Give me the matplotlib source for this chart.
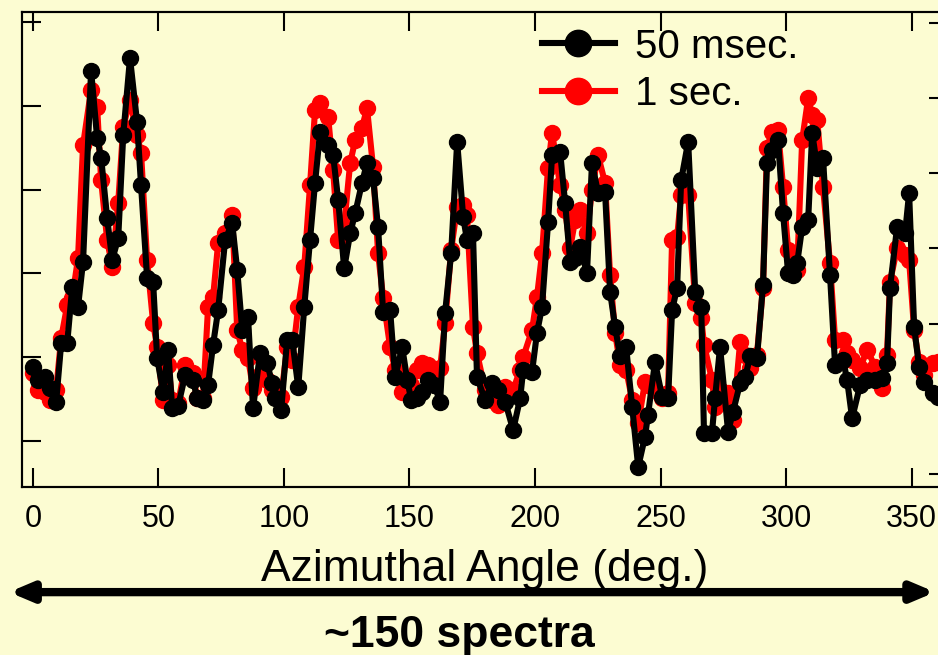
import matplotlib.pyplot as plt

# azimuthal angle of each spectrum (deg.) and intensity (arb. units)
angle = [0.0, 2.1, 4.9, 6.9, 9.3, 11.3, 13.7, 15.7, 18.0, 20.0,
         23.2, 25.6, 27.2, 29.6, 31.6, 34.0, 36.0, 38.7, 41.5, 43.1,
         45.5, 47.9, 49.5, 51.9, 53.9, 55.5, 57.9, 60.7, 63.8, 65.4,
         67.8, 69.8, 71.8, 73.8, 76.6, 79.4, 81.4, 83.4, 85.7, 87.7,
         90.5, 93.3, 95.3, 96.5, 98.9, 101.3, 103.3, 105.7, 108.1, 110.4,
         112.4, 114.4, 117.6, 119.6, 121.6, 124.0, 126.4, 128.4, 131.1, 133.1,
         135.5, 137.5, 139.5, 142.3, 144.3, 147.1, 149.1, 150.7, 153.0, 155.0,
         157.4, 159.8, 162.2, 164.2, 166.6, 169.0, 171.4, 172.9, 175.3, 176.9,
         180.1, 182.9, 185.3, 188.1, 191.3, 194.1, 195.3, 198.8, 200.8, 202.8,
         205.2, 206.8, 210.0, 212.0, 214.0, 216.0, 218.0, 220.7, 222.7, 225.1,
         227.9, 229.9, 231.9, 233.9, 236.3, 238.7, 241.1, 243.8, 245.0, 247.8,
         250.6, 253.0, 254.6, 256.6, 258.2, 261.0, 263.8, 266.2, 267.3, 270.5,
         271.7, 273.7, 276.9, 278.9, 281.7, 283.7, 285.7, 288.4, 290.8, 292.4,
         294.4, 296.8, 298.8, 300.8, 302.8, 304.4, 306.4, 308.8, 310.4, 312.4,
         314.7, 317.5, 319.5, 322.7, 324.3, 326.3, 329.5, 332.3, 335.5, 338.2,
         340.2, 341.4, 344.2, 347.4, 349.0, 351.0, 353.0, 355.0, 358.5, 360.5]

msec50 = [8.8, 7.3, 7.6, 6.3, 4.7, 11.7, 11.7, 18.4, 16.0, 21.4,
          44.2, 36.2, 33.8, 26.6, 21.6, 24.2, 36.5, 45.7, 38.1, 30.5,
          19.5, 19.0, 9.9, 5.8, 10.9, 3.9, 4.2, 7.9, 7.3, 5.1,
          4.9, 6.7, 11.5, 15.6, 24.0, 26.0, 20.4, 13.2, 14.8, 3.9,
          10.5, 9.3, 6.9, 5.1, 3.7, 12.1, 12.1, 6.4, 16.0, 24.0,
          30.8, 36.9, 35.3, 34.1, 28.8, 20.6, 24.8, 27.2, 30.8, 33.2,
          31.4, 25.5, 15.4, 15.6, 7.6, 11.2, 7.3, 4.9, 5.1, 5.8,
          7.3, 6.7, 4.7, 15.3, 22.4, 35.7, 26.7, 24.0, 24.8, 7.6,
          4.9, 6.9, 6.1, 4.7, 1.3, 5.1, 8.5, 8.2, 12.9, 16.0,
          26.1, 34.1, 34.5, 28.4, 21.4, 21.8, 23.1, 20.0, 33.2, 29.6,
          29.7, 17.8, 13.6, 10.1, 11.2, 4.1, -3.1, 0.5, 3.1, 9.4,
          5.3, 5.1, 15.6, 18.3, 31.1, 35.7, 17.8, 16.0, 1.0, 1.0,
          5.1, 11.2, 1.1, 3.5, 6.9, 7.6, 10.1, 9.9, 18.6, 33.2,
          34.7, 35.9, 27.2, 20.0, 19.8, 21.2, 25.5, 26.4, 36.8, 32.6,
          33.8, 19.8, 9.1, 9.7, 7.3, 2.7, 6.7, 7.3, 7.3, 7.5,
          9.3, 18.3, 25.5, 24.8, 29.6, 13.6, 8.8, 7.0, 5.7, 5.3]

sec1 = [8.1, 6.1, 5.8, 4.9, 6.1, 12.3, 16.2, 17.1, 21.8, 35.3,
        41.9, 39.9, 31.1, 24.0, 20.8, 28.4, 37.5, 40.7, 36.5, 34.4,
        21.6, 14.1, 11.2, 4.9, 9.1, 4.9, 4.5, 9.1, 8.1, 5.1,
        5.1, 16.0, 17.2, 23.6, 24.8, 27.0, 13.2, 10.9, 9.9, 6.3,
        7.9, 7.3, 6.1, 5.5, 5.3, 11.2, 9.7, 16.0, 20.8, 30.5,
        39.5, 40.3, 38.7, 32.3, 24.0, 25.8, 33.2, 35.9, 37.4, 39.7,
        32.7, 22.4, 17.1, 11.2, 8.5, 5.8, 7.3, 6.7, 8.5, 9.3,
        9.1, 8.5, 8.7, 14.1, 22.8, 27.9, 28.2, 27.0, 13.6, 10.5,
        6.1, 4.9, 4.3, 6.4, 6.1, 8.5, 10.0, 13.2, 17.2, 22.4,
        32.6, 36.8, 30.5, 27.6, 23.0, 26.4, 27.6, 24.8, 30.0, 34.1,
        30.8, 19.8, 12.9, 9.1, 8.5, 4.9, 2.1, 7.0, 6.7, 6.1,
        5.1, 5.7, 24.0, 24.3, 29.4, 29.4, 16.5, 14.7, 11.5, 7.3,
        4.1, 6.1, 5.7, 2.5, 11.8, 10.3, 8.7, 10.3, 18.3, 35.0,
        36.9, 37.1, 30.3, 22.8, 20.6, 20.4, 35.9, 40.9, 38.9, 38.3,
        30.3, 21.2, 12.1, 12.1, 10.5, 9.7, 8.7, 10.9, 8.8, 6.3,
        10.3, 19.0, 23.0, 22.2, 21.6, 13.2, 9.4, 7.9, 9.3, 9.4]

bg = '#FCFCD2'
plt.rcParams['font.family'] = ['Liberation Sans', 'DejaVu Sans']

fig = plt.figure(figsize=(9.38, 6.55), dpi=100, facecolor=bg)
ax = fig.add_axes([0.0235, 0.2565, 0.9872, 0.7252])
ax2 = ax.twinx()
ax.set_zorder(2)
ax.patch.set_visible(False)
ax2.set_zorder(1)

red, = ax.plot(angle, sec1, color='red', lw=4.4, marker='o', ms=11.5, label='1 sec.')
black, = ax.plot(angle, msec50, color='black', lw=4.4, marker='o', ms=11.5, label='50 msec.')

ax.set_xlim(-4.3, 364.5)
ax.set_ylim(-5.5, 51.2)
ax.set_xticks(range(0, 351, 50))
ax.set_yticks(range(0, 51, 10))
ax.set_yticklabels([])
ax.tick_params(direction='in', length=14, width=1.5, top=True, right=False,
               labelsize=22, pad=12)
ax2.set_ylim(-0.17, 6.14)
ax2.set_yticks(range(7))
ax2.set_yticklabels([])
ax2.tick_params(direction='in', length=14, width=1.5)
for a in (ax, ax2):
    for sp in a.spines.values():
        sp.set_linewidth(1.5)

ax.set_xlabel('Azimuthal Angle (deg.)', fontsize=32, labelpad=11)

ax.legend([black, red], ['50 msec.', '1 sec.'], loc='upper left',
          bbox_to_anchor=(0.578, 0.958), bbox_transform=fig.transFigure,
          frameon=False, fontsize=29, handlelength=1.8, handletextpad=0.5,
          labelspacing=0.24, borderpad=0, borderaxespad=0, markerscale=1.65)

ax.annotate('', xy=(0.0096, 0.096), xytext=(0.997, 0.096),
            xycoords='figure fraction', textcoords='figure fraction',
            arrowprops=dict(arrowstyle='<|-|>,head_length=1.3,head_width=0.55',
                            lw=6, color='black', mutation_scale=10,
                            shrinkA=0, shrinkB=0))
fig.text(0.490, 0.03, '~150 spectra', ha='center', va='center',
         fontsize=32, fontweight='bold')

fig.savefig('out.png', dpi=100, facecolor=bg)
